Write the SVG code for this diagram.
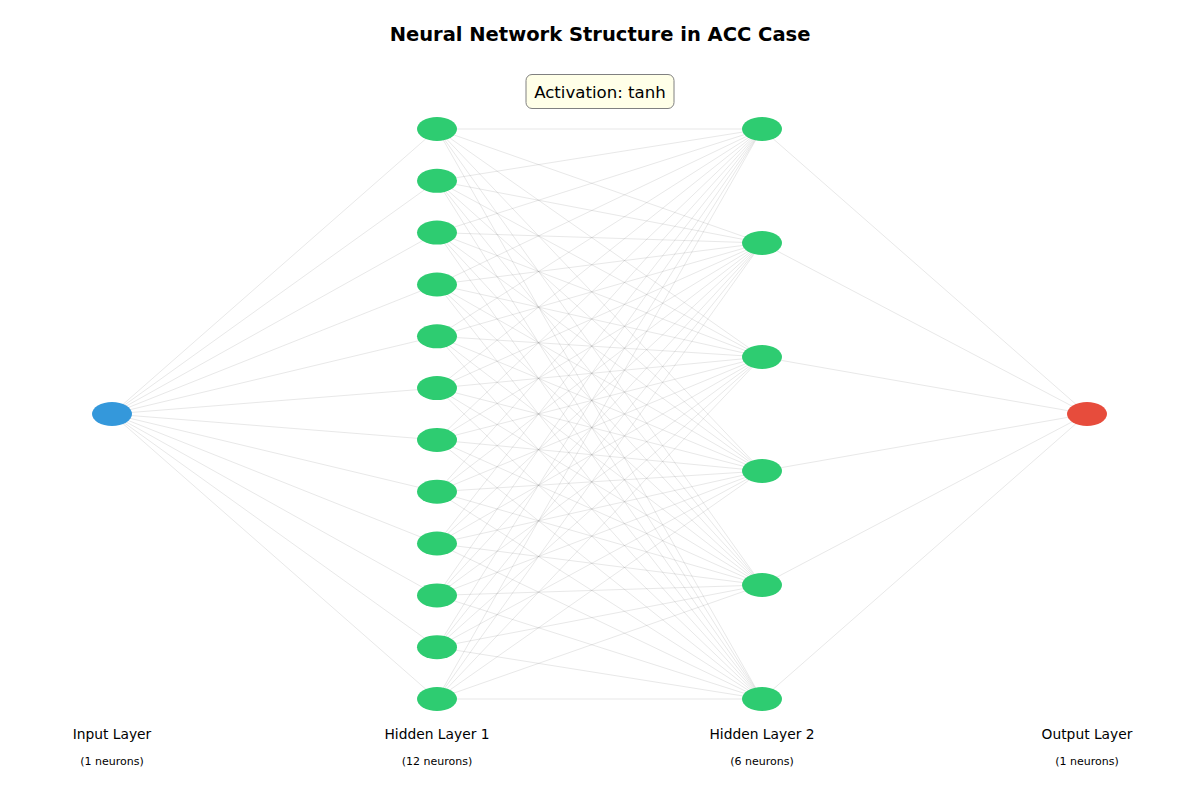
<svg xmlns="http://www.w3.org/2000/svg" width="1200" height="800" viewBox="0 0 1200 800">
<style>
text{font-family:"DejaVu Sans","Liberation Sans",sans-serif;fill:#000}
.title{font-size:19.5px;font-weight:bold}
.lbl{font-size:13.8px}
.sub{font-size:11px}
.e{stroke:#808080;stroke-opacity:0.3;stroke-width:0.6;fill:none}
.in{fill:#3498db}
.hid{fill:#2ecc71}
.out{fill:#e74c3c}
</style>
<rect width="1200" height="800" fill="#fff"/>
<g id="connectors" class="e">
<path d="M112 414L437 129M112 414L437 180.8M112 414L437 232.6M112 414L437 284.5M112 414L437 336.3M112 414L437 388.1M112 414L437 439.9M112 414L437 491.7M112 414L437 543.5M112 414L437 595.4M112 414L437 647.2M112 414L437 699"/>
<path d="M437 129L762 129M437 129L762 243M437 129L762 357M437 129L762 471M437 129L762 585M437 129L762 699"/>
<path d="M437 180.8L762 129M437 180.8L762 243M437 180.8L762 357M437 180.8L762 471M437 180.8L762 585M437 180.8L762 699"/>
<path d="M437 232.6L762 129M437 232.6L762 243M437 232.6L762 357M437 232.6L762 471M437 232.6L762 585M437 232.6L762 699"/>
<path d="M437 284.5L762 129M437 284.5L762 243M437 284.5L762 357M437 284.5L762 471M437 284.5L762 585M437 284.5L762 699"/>
<path d="M437 336.3L762 129M437 336.3L762 243M437 336.3L762 357M437 336.3L762 471M437 336.3L762 585M437 336.3L762 699"/>
<path d="M437 388.1L762 129M437 388.1L762 243M437 388.1L762 357M437 388.1L762 471M437 388.1L762 585M437 388.1L762 699"/>
<path d="M437 439.9L762 129M437 439.9L762 243M437 439.9L762 357M437 439.9L762 471M437 439.9L762 585M437 439.9L762 699"/>
<path d="M437 491.7L762 129M437 491.7L762 243M437 491.7L762 357M437 491.7L762 471M437 491.7L762 585M437 491.7L762 699"/>
<path d="M437 543.5L762 129M437 543.5L762 243M437 543.5L762 357M437 543.5L762 471M437 543.5L762 585M437 543.5L762 699"/>
<path d="M437 595.4L762 129M437 595.4L762 243M437 595.4L762 357M437 595.4L762 471M437 595.4L762 585M437 595.4L762 699"/>
<path d="M437 647.2L762 129M437 647.2L762 243M437 647.2L762 357M437 647.2L762 471M437 647.2L762 585M437 647.2L762 699"/>
<path d="M437 699L762 129M437 699L762 243M437 699L762 357M437 699L762 471M437 699L762 585M437 699L762 699"/>
<path d="M762 129L1087 414M762 243L1087 414M762 357L1087 414M762 471L1087 414M762 585L1087 414M762 699L1087 414"/>
</g>
<g id="input-layer">
<ellipse class="in" cx="112" cy="414" rx="20" ry="12"/>
</g>
<g id="hidden-layer-1">
<ellipse class="hid" cx="437" cy="129" rx="20" ry="12"/>
<ellipse class="hid" cx="437" cy="180.8" rx="20" ry="12"/>
<ellipse class="hid" cx="437" cy="232.6" rx="20" ry="12"/>
<ellipse class="hid" cx="437" cy="284.5" rx="20" ry="12"/>
<ellipse class="hid" cx="437" cy="336.3" rx="20" ry="12"/>
<ellipse class="hid" cx="437" cy="388.1" rx="20" ry="12"/>
<ellipse class="hid" cx="437" cy="439.9" rx="20" ry="12"/>
<ellipse class="hid" cx="437" cy="491.7" rx="20" ry="12"/>
<ellipse class="hid" cx="437" cy="543.5" rx="20" ry="12"/>
<ellipse class="hid" cx="437" cy="595.4" rx="20" ry="12"/>
<ellipse class="hid" cx="437" cy="647.2" rx="20" ry="12"/>
<ellipse class="hid" cx="437" cy="699" rx="20" ry="12"/>
</g>
<g id="hidden-layer-2">
<ellipse class="hid" cx="762" cy="129" rx="20" ry="12"/>
<ellipse class="hid" cx="762" cy="243" rx="20" ry="12"/>
<ellipse class="hid" cx="762" cy="357" rx="20" ry="12"/>
<ellipse class="hid" cx="762" cy="471" rx="20" ry="12"/>
<ellipse class="hid" cx="762" cy="585" rx="20" ry="12"/>
<ellipse class="hid" cx="762" cy="699" rx="20" ry="12"/>
</g>
<g id="output-layer">
<ellipse class="out" cx="1087" cy="414" rx="20" ry="12"/>
</g>
<g id="labels" text-anchor="middle">
<text class="title" x="600" y="41">Neural Network Structure in ACC Case</text>
<text class="lbl" x="112" y="739">Input Layer</text>
<text class="sub" x="112" y="765">(1 neurons)</text>
<text class="lbl" x="437" y="739">Hidden Layer 1</text>
<text class="sub" x="437" y="765">(12 neurons)</text>
<text class="lbl" x="762" y="739">Hidden Layer 2</text>
<text class="sub" x="762" y="765">(6 neurons)</text>
<text class="lbl" x="1087" y="739">Output Layer</text>
<text class="sub" x="1087" y="765">(1 neurons)</text>
</g>
<g id="activation-box">
<rect x="526" y="74.5" width="148" height="34" rx="6" fill="#ffffe8" stroke="#808080" stroke-width="1"/>
<text x="600" y="97.5" text-anchor="middle" font-size="16.6">Activation: tanh</text>
</g>
</svg>
